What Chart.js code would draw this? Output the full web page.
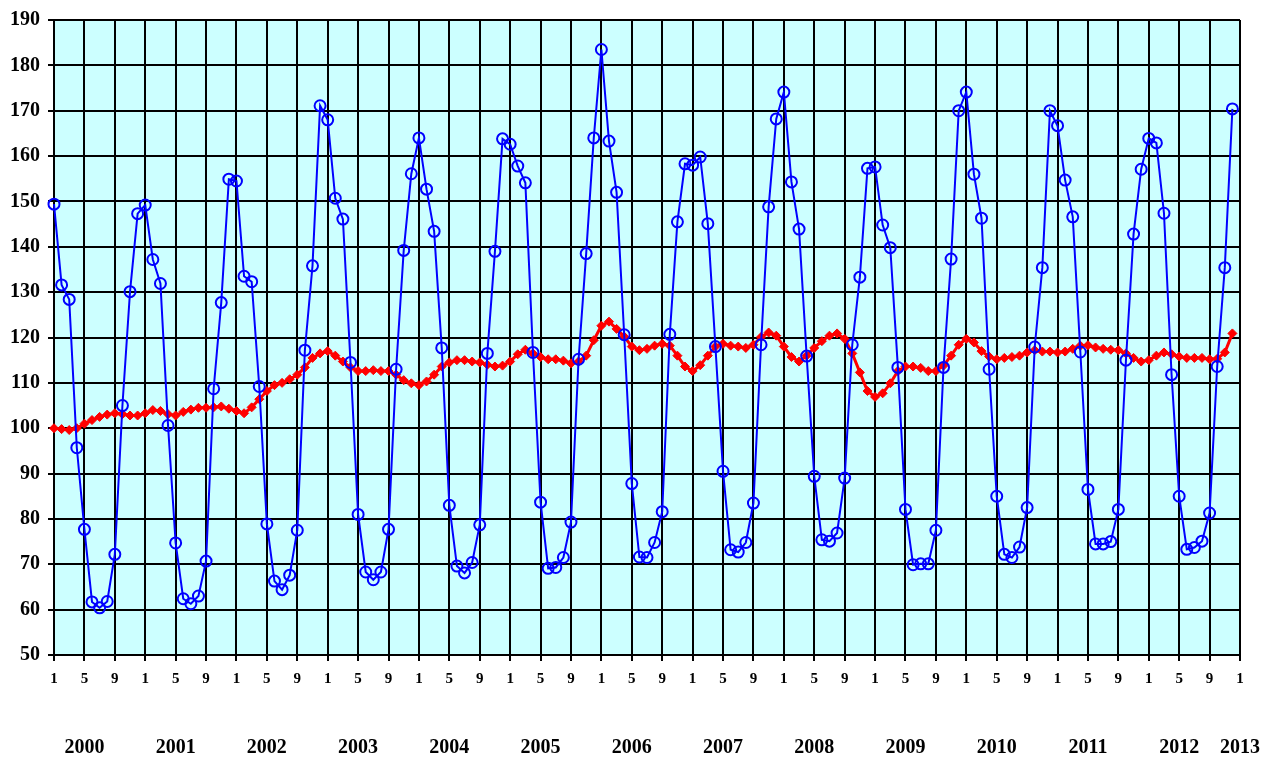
<!DOCTYPE html>
<html>
<head>
<meta charset="utf-8">
<script src="https://cdn.jsdelivr.net/npm/chart.js@4"></script>
<style>
  html, body { margin: 0; padding: 0; background: #ffffff; }
  #wrap { width: 1287px; height: 760px; }
</style>
</head>
<body>
<div id="wrap"><canvas id="c" width="1287" height="760"></canvas></div>
<script>
// ---- data ----
const years = ['2000','2001','2002','2003','2004','2005','2006','2007','2008','2009','2010','2011','2012','2013'];
const monthNumbers = ['1','2','3','4','5','6','7','8','9','10','11','12'];

// Monthly index (blue, circles), Jan 2000 .. Dec 2012
const seasonal = [
  149.4, 131.6, 128.4, 95.7, 77.7, 61.7, 60.4, 61.8, 72.2, 105.0, 130.1, 147.3,
  149.2, 137.2, 131.9, 100.6, 74.7, 62.4, 61.3, 63.0, 70.7, 108.7, 127.7, 154.9,
  154.5, 133.5, 132.3, 109.2, 78.9, 66.3, 64.4, 67.6, 77.5, 117.2, 135.8, 171.1,
  168.0, 150.7, 146.1, 114.5, 81.0, 68.3, 66.6, 68.3, 77.7, 113.0, 139.2, 156.1,
  164.0, 152.7, 143.4, 117.7, 83.0, 69.6, 68.1, 70.4, 78.7, 116.5, 139.0, 163.8,
  162.6, 157.8, 154.1, 116.7, 83.7, 69.1, 69.3, 71.5, 79.3, 115.2, 138.5, 164.0,
  183.5, 163.3, 152.0, 120.6, 87.8, 71.6, 71.5, 74.8, 81.6, 120.7, 145.5, 158.3,
  158.0, 159.8, 145.1, 118.0, 90.5, 73.2, 72.7, 74.8, 83.5, 118.4, 148.8, 168.2,
  174.1, 154.3, 143.9, 115.9, 89.4, 75.4, 75.1, 76.9, 89.0, 118.4, 133.3, 157.3,
  157.6, 144.8, 139.8, 113.4, 82.1, 69.9, 70.1, 70.1, 77.5, 113.4, 137.3, 170.0,
  174.1, 156.0, 146.3, 113.0, 85.0, 72.2, 71.5, 73.8, 82.5, 117.9, 135.4, 170.0,
  166.7, 154.7, 146.6, 116.8, 86.5, 74.5, 74.5, 75.0, 82.1, 115.0, 142.8, 157.1,
  163.9, 162.9, 147.4, 111.8, 85.0, 73.3, 73.7, 75.1, 81.3, 113.6, 135.4, 170.4
];

// Trend (red, diamonds), Jan 2000 .. Dec 2012
const trend = [
  100.0, 99.8, 99.6, 100.0, 101.0, 101.8, 102.5, 103.0, 103.3, 103.1, 102.8, 102.8,
  103.3, 104.0, 103.8, 103.1, 102.8, 103.6, 104.1, 104.5, 104.5, 104.6, 104.8, 104.3,
  103.8, 103.3, 104.6, 106.4, 108.2, 109.5, 110.0, 110.8, 111.8, 113.4, 115.5, 116.5,
  117.0, 116.0, 114.7, 113.4, 112.6, 112.6, 112.8, 112.6, 112.6, 111.8, 110.6, 109.9,
  109.5, 110.3, 111.8, 113.6, 114.5, 115.0, 115.0, 114.7, 114.5, 114.0, 113.6, 113.8,
  114.7, 116.3, 117.3, 116.5, 115.7, 115.2, 115.2, 114.9, 114.3, 114.7, 116.0, 119.4,
  122.6, 123.5, 121.9, 120.2, 118.0, 117.2, 117.5, 118.2, 118.6, 118.2, 116.0, 113.6,
  112.6, 113.9, 116.0, 118.0, 118.6, 118.2, 118.0, 117.7, 118.4, 120.1, 121.1, 120.4,
  118.0, 115.7, 114.7, 116.0, 117.7, 119.2, 120.4, 120.9, 119.7, 116.5, 112.3, 108.2,
  106.9, 107.7, 109.9, 112.6, 113.6, 113.6, 113.3, 112.6, 112.6, 113.8, 116.0, 118.4,
  119.7, 118.9, 117.0, 115.8, 115.2, 115.5, 115.7, 116.0, 116.7, 117.2, 116.9, 116.9,
  116.7, 116.9, 117.5, 118.2, 118.3, 117.8, 117.5, 117.3, 117.2, 116.5, 115.5, 114.7,
  115.0, 116.0, 116.7, 116.3, 115.8, 115.5, 115.5, 115.5, 115.2, 115.3, 116.7, 120.9
];

const yMin = 50, yMax = 190, yStep = 10;
const monthTickEvery = 4;

// category labels: every month from Jan 2000 to Jan 2013
const monthLabels = [];
const yearOfLabel = [];
for (let y = 0; y < years.length; y++) {
  const count = (y === years.length - 1) ? 1 : 12;
  for (let m = 0; m < count; m++) { monthLabels.push(monthNumbers[m]); yearOfLabel.push(years[y]); }
}

const FONT = "'Liberation Serif', 'Times New Roman', serif";

const bgPlugin = {
  id: 'plotBg',
  beforeDraw(chart) {
    const a = chart.chartArea, ctx = chart.ctx;
    ctx.save();
    ctx.fillStyle = '#CCFFFF';
    ctx.fillRect(a.left, a.top, a.right - a.left, a.bottom - a.top);
    ctx.restore();
  }
};

new Chart(document.getElementById('c'), {
  type: 'line',
  data: {
    labels: monthLabels,
    datasets: [
      {
        label: 'trend',
        data: trend,
        borderColor: '#FF0000',
        backgroundColor: '#FF0000',
        borderWidth: 3,
        pointStyle: 'rectRot',
        pointRadius: 4.5,
        pointBorderWidth: 1,
        pointBackgroundColor: '#FF0000',
        pointBorderColor: '#FF0000',
        tension: 0,
        order: 2
      },
      {
        label: 'index',
        data: seasonal,
        borderColor: '#0000FF',
        backgroundColor: 'rgba(0,0,0,0)',
        borderWidth: 2,
        pointStyle: 'circle',
        pointRadius: 5.5,
        pointBorderWidth: 2,
        pointBackgroundColor: 'rgba(0,0,0,0)',
        pointBorderColor: '#0000FF',
        tension: 0,
        order: 1
      }
    ]
  },
  options: {
    responsive: false,
    animation: false,
    devicePixelRatio: 1,
    layout: { padding: { top: 16, right: 47, bottom: 0, left: 0 } },
    plugins: { legend: { display: false }, tooltip: { enabled: false } },
    scales: {
      x: {
        type: 'category',
        position: 'bottom',
        offset: false,
        grid: {
          color: (c) => (c.index % monthTickEvery === 0 ? '#000000' : 'rgba(0,0,0,0)'),
          lineWidth: 2,
          tickLength: 6,
          drawTicks: true
        },
        border: { color: '#000000', width: 2 },
        ticks: {
          autoSkip: false,
          maxRotation: 0,
          minRotation: 0,
          padding: 9,
          color: '#000000',
          font: { family: FONT, size: 15, weight: 'bold' },
          callback: (v, i) => (i % monthTickEvery === 0 ? monthLabels[i] : '')
        },
        afterFit: (s) => { s.height = 40; }
      },
      years: {
        type: 'category',
        position: 'bottom',
        offset: false,
        grid: {
          display: true,
          drawOnChartArea: false,
          drawTicks: true,
          tickLength: 41,
          color: 'rgba(0,0,0,0)'
        },
        border: { display: false },
        ticks: {
          autoSkip: false,
          maxRotation: 0,
          minRotation: 0,
          padding: 0,
          color: '#000000',
          font: { family: FONT, size: 20, weight: 'bold' },
          callback: (v, i) => {
            if (i === monthLabels.length - 1) return yearOfLabel[i];
            return (i % 12 === 4) ? yearOfLabel[i] : '';
          }
        },
        afterFit: (s) => { s.height = 65; }
      },
      y: {
        type: 'linear',
        min: yMin,
        max: yMax,
        grid: { color: '#000000', lineWidth: 2, tickLength: 6 },
        border: { color: '#000000', width: 2 },
        ticks: {
          stepSize: yStep,
          padding: 8,
          color: '#000000',
          font: { family: FONT, size: 20, weight: 'bold' }
        },
        afterFit: (s) => { s.width = 54; }
      }
    }
  },
  plugins: [bgPlugin]
});
</script>
</body>
</html>
